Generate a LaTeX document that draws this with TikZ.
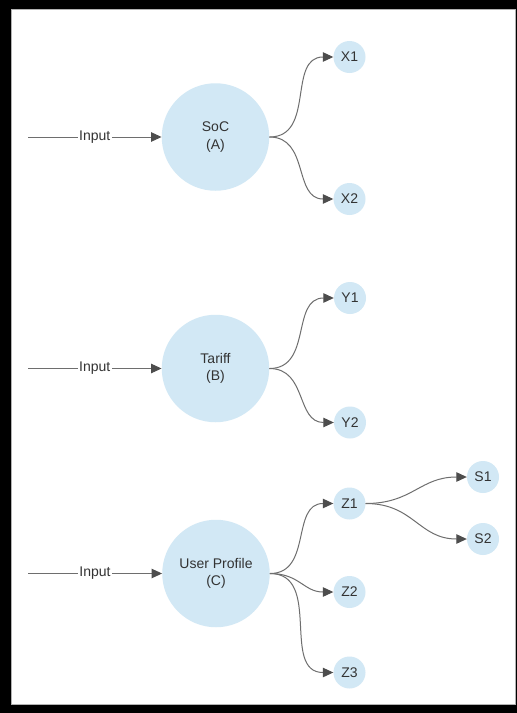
\documentclass[tikz,border=0pt]{standalone}
\usepackage{fontspec}
\setmainfont{Liberation Sans}
\usetikzlibrary{arrows.meta}
\definecolor{nodefill}{HTML}{D2E8F5}
\definecolor{txt}{HTML}{333333}
\definecolor{edgec}{HTML}{6E6E6E}
\definecolor{tipc}{HTML}{4D4D4D}
\tikzset{
  big/.style={circle,fill=nodefill,minimum size=107.5pt,inner sep=0pt,align=center,text=txt,font=\fontsize{14}{17.5}\selectfont},
  small/.style={circle,fill=nodefill,minimum size=32pt,inner sep=0pt,text=txt,font=\fontsize{14}{17}\selectfont},
  edge/.style={draw=edgec,line width=1pt,-{Triangle[length=10.5pt,width=9.5pt,fill=tipc,color=tipc]}},
  lab/.style={fill=white,inner sep=1.5pt,text=txt,font=\fontsize{14}{17}\selectfont},
}
\begin{document}
\begin{tikzpicture}[x=1pt,y=-1pt]
\useasboundingbox (0,0) rectangle (517,713);
\fill[black] (0,0) rectangle (517,713);
\filldraw[fill=white,draw=gray!60,line width=0.8pt] (11,9.5) rectangle (515,704.5);

\node[big] (A) at (215.5,137) {SoC\\(A)};
\node[big] (B) at (215.5,368.5) {Tariff\\(B)};
\node[big] (C) at (216,573.5) {User Profile\\(C)};

\node[small] (X1) at (349.5,57) {X1};
\node[small] (X2) at (349.5,199) {X2};
\node[small] (Y1) at (350,298) {Y1};
\node[small] (Y2) at (350,422.5) {Y2};
\node[small] (Z1) at (349.5,503.5) {Z1};
\node[small] (Z2) at (349.5,592) {Z2};
\node[small] (Z3) at (349.5,672.5) {Z3};
\node[small] (S1) at (483,477) {S1};
\node[small] (S2) at (483,539) {S2};

\coordinate (iA) at (28,137);
\coordinate (iB) at (28,368.5);
\coordinate (iC) at (28,573.5);

\draw[edge] (iA) -- node[lab] {Input} (A);
\draw[edge] (iB) -- node[lab] {Input} (B);
\draw[edge] (iC) -- node[lab] {Input} (C);

\draw[edge] (A.east) to[out=0,in=180,looseness=1.15] (X1.west);
\draw[edge] (A.east) to[out=0,in=180,looseness=1.15] (X2.west);
\draw[edge] (B.east) to[out=0,in=180,looseness=1.15] (Y1.west);
\draw[edge] (B.east) to[out=0,in=180,looseness=1.15] (Y2.west);
\draw[edge] (C.east) to[out=0,in=180,looseness=1.15] (Z1.west);
\draw[edge] (C.east) to[out=0,in=180,looseness=1.15] (Z2.west);
\draw[edge] (C.east) to[out=0,in=180,looseness=1.15] (Z3.west);
\draw[edge] (Z1.east) to[out=0,in=180,looseness=1.15] (S1.west);
\draw[edge] (Z1.east) to[out=0,in=180,looseness=1.15] (S2.west);
\end{tikzpicture}
\end{document}
